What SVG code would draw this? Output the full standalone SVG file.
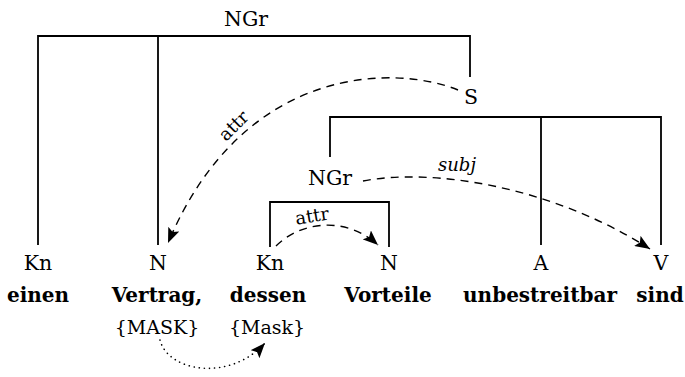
<svg xmlns="http://www.w3.org/2000/svg" width="685" height="377" viewBox="0 0 685 377">
<style>
text{font-family:"DejaVu Serif","Liberation Serif",serif;fill:#000;text-anchor:middle}
.cat{font-size:20.5px}
.word{font-size:20px;font-weight:bold}
.mask{font-size:19px}
.lbl{font-size:18px;stroke:#fff;stroke-width:5px;paint-order:stroke;stroke-linejoin:round}
.tree{fill:none;stroke:#000;stroke-width:1.8}
.dep{fill:none;stroke:#000;stroke-width:1.4;stroke-dasharray:8 6}
.dot{fill:none;stroke:#000;stroke-width:1.6;stroke-dasharray:0.1 5;stroke-linecap:round}
</style>
<defs>
<marker id="ah" markerUnits="userSpaceOnUse" markerWidth="16" markerHeight="12" refX="15" refY="6" orient="auto">
<path d="M0,0 L15,6 L0,12 L3,6 z" fill="#000"/>
</marker>
</defs>
<g id="tree-lines">
<path class="tree" d="M38,245 V36 H470 V77 M158,36 V245"/>
<path class="tree" d="M330,157 V117 H661 V245 M541,117 V245"/>
<path class="tree" d="M270,247 V202 H389 V247"/>
</g>
<g id="node-NGr-top"><text class="cat" x="246" y="26">NGr</text></g>
<g id="node-S"><text class="cat" x="471" y="104">S</text></g>
<g id="node-NGr-inner"><text class="cat" x="330" y="185">NGr</text></g>
<g id="node-Kn1"><text class="cat" x="38" y="270">Kn</text><text class="word" x="38" y="302">einen</text></g>
<g id="node-N1"><text class="cat" x="158" y="270">N</text><text class="word" x="157" y="302">Vertrag,</text><text class="mask" x="157" y="334">{MASK}</text></g>
<g id="node-Kn2"><text class="cat" x="270" y="270">Kn</text><text class="word" x="268" y="302">dessen</text><text class="mask" x="267" y="334">{Mask}</text></g>
<g id="node-N2"><text class="cat" x="389" y="270">N</text><text class="word" x="388" y="302">Vorteile</text></g>
<g id="node-A"><text class="cat" x="541" y="270">A</text><text class="word" x="540" y="302">unbestreitbar</text></g>
<g id="node-V"><text class="cat" x="661" y="270">V</text><text class="word" x="660" y="302">sind</text></g>
<g id="connectors">
<path class="dep" d="M458,90 C400,66 245,60 168,243" marker-end="url(#ah)"/>
<path class="dep" d="M363,181 C430,168 550,185 650,249" marker-end="url(#ah)"/>
<path class="dep" d="M276,246 C300,222 345,215 378,245" marker-end="url(#ah)"/>
<path class="dot" d="M160,340 C168,372 230,382 265,343" marker-end="url(#ah)"/>
<text class="lbl" transform="translate(238,130) rotate(-45)">attr</text>
<text class="lbl" font-style="italic" x="457" y="171">subj</text>
<text class="lbl" transform="translate(313,222) rotate(-9)">attr</text>
</g>
</svg>
